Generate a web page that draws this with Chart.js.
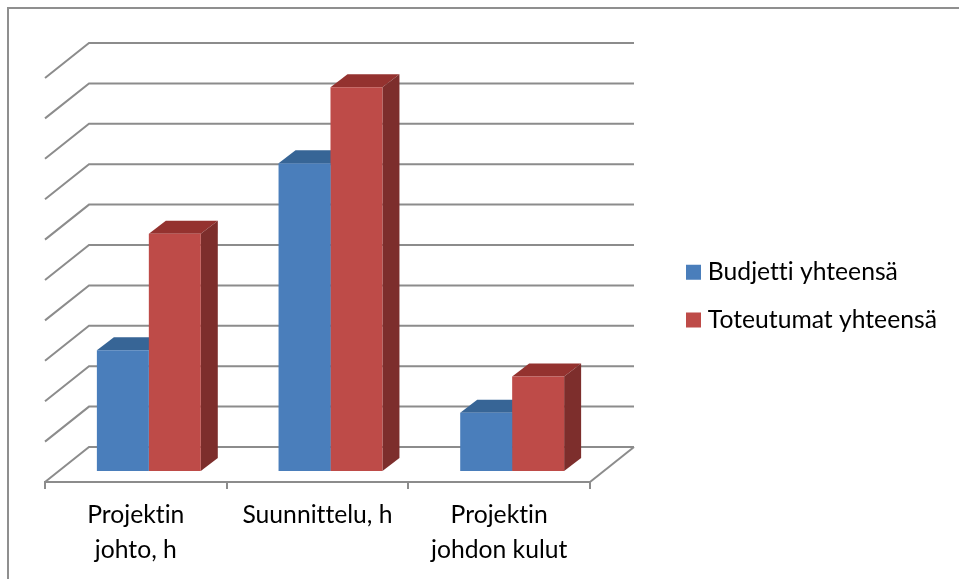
<!DOCTYPE html>
<html lang="fi">
<head>
  <meta charset="UTF-8">
  <title>Budjetti ja toteutumat</title>
  <script src="https://cdn.jsdelivr.net/npm/chart.js"></script>
  <style>
    body { margin: 0; background: #fff; }
    .frame {
      position: absolute;
      left: 7px;
      top: 7px;
      right: 0;
      bottom: 0;
      border-left: 2px solid #8f8f8f;
      border-top: 2px solid #8f8f8f;
    }
    canvas { position: absolute; left: 0; top: 0; }
  </style>
</head>
<body>
  <div class="frame"></div>
  <canvas id="kaavio" width="959" height="579"></canvas>

  <script>
    var kategoriat = [["Projektin", "johto, h"], "Suunnittelu, h", ["Projektin", "johdon kulut"]];
    var budjetti = [2.99, 7.62, 1.44];
    var toteutumat = [5.87, 9.5, 2.34];

    var gridColor = "#8c8c8c";
    // depth of the floor/walls and of the bars themselves
    var wallDx = 44, wallDy = -35;
    var planeDx = 13, planeDy = -11;
    var barDx = 17, barDy = -13;

    function face(ctx, color, pts) {
      ctx.fillStyle = color;
      ctx.beginPath();
      ctx.moveTo(pts[0][0], pts[0][1]);
      for (var i = 1; i < pts.length; i++) ctx.lineTo(pts[i][0], pts[i][1]);
      ctx.closePath();
      ctx.fill();
    }

    var perspective = {
      id: "perspective",
      afterLayout: function (chart) {
        // legend sits in the empty space right of the plot
        var legend = chart.legend;
        legend.left = 668.5;
        legend.right = 959;
        legend.top = 237;
        legend.bottom = 579;
      },
      beforeDraw: function (chart) {
        // no tt/ti ligatures in the labels
        chart.ctx.textRendering = "optimizeSpeed";
      },
      beforeDatasetsDraw: function (chart) {
        var ctx = chart.ctx, area = chart.chartArea, y = chart.scales.y;
        ctx.save();
        ctx.strokeStyle = gridColor;
        ctx.lineWidth = 2;
        y.ticks.forEach(function (t) {
          var py = y.getPixelForValue(t.value);
          ctx.beginPath();
          ctx.moveTo(area.left, py);
          ctx.lineTo(area.left + wallDx, py + wallDy);
          ctx.lineTo(area.right + wallDx, py + wallDy);
          ctx.stroke();
        });
        // right edge of the floor
        ctx.beginPath();
        ctx.moveTo(area.right, area.bottom);
        ctx.lineTo(area.right + wallDx, area.bottom + wallDy);
        ctx.stroke();
        ctx.restore();

        // bars stand a little way in from the front edge
        ctx.save();
        ctx.translate(planeDx, planeDy);

        // top and side faces first, the front faces are painted over them
        chart.data.datasets.forEach(function (ds, i) {
          chart.getDatasetMeta(i).data.forEach(function (bar) {
            var p = bar.getProps(["x", "y", "base", "width"], true);
            var l = p.x - p.width / 2, r = p.x + p.width / 2;
            face(ctx, ds.topColor, [[l, p.y], [r, p.y], [r + barDx, p.y + barDy], [l + barDx, p.y + barDy]]);
            face(ctx, ds.sideColor, [[r, p.y], [r + barDx, p.y + barDy], [r + barDx, p.base + barDy], [r, p.base]]);
          });
        });
      },
      afterDatasetsDraw: function (chart) {
        chart.ctx.restore();
      }
    };

    new Chart(document.getElementById("kaavio"), {
      type: "bar",
      plugins: [perspective],
      data: {
        labels: kategoriat,
        datasets: [
          { label: "Budjetti yhteensä", data: budjetti, clip: false,
            backgroundColor: "#4a7ebb", topColor: "#376596", sideColor: "#2f5580" },
          { label: "Toteutumat yhteensä", data: toteutumat, clip: false,
            backgroundColor: "#be4b48", topColor: "#94322f", sideColor: "#7d2e2c" }
        ]
      },
      options: {
        responsive: false,
        animation: false,
        layout: { padding: { left: 45, top: 78, bottom: 0, right: 369 } },
        datasets: { bar: { categoryPercentage: 0.572, barPercentage: 1 } },
        scales: {
          x: {
            grid: { drawOnChartArea: false, color: gridColor, lineWidth: 2, tickLength: 7 },
            border: { color: gridColor, width: 2 },
            ticks: {
              color: "#000",
              padding: 9,
              maxRotation: 0,
              autoSkip: false,
              font: { family: "Lato", size: 24.7, lineHeight: 1.417 }
            },
            afterFit: function (s) { s.height = 97; }
          },
          y: {
            min: 0,
            max: 10,
            ticks: { display: false, stepSize: 1 },
            grid: { display: false },
            border: { display: false },
            afterFit: function (s) { s.width = 0; }
          }
        },
        plugins: {
          tooltip: { enabled: false },
          legend: {
            position: "chartArea",
            align: "start",
            labels: {
              color: "#000",
              // small box plus a thick same-colour stroke keeps the text close to the swatch
              boxWidth: 4,
              boxHeight: 4,
              padding: 23,
              font: { family: "Lato", size: 24.7 },
              generateLabels: function (chart) {
                return Chart.defaults.plugins.legend.labels.generateLabels(chart).map(function (item) {
                  item.strokeStyle = item.fillStyle;
                  item.lineWidth = 11;
                  return item;
                });
              }
            }
          }
        }
      }
    });
  </script>
</body>
</html>
